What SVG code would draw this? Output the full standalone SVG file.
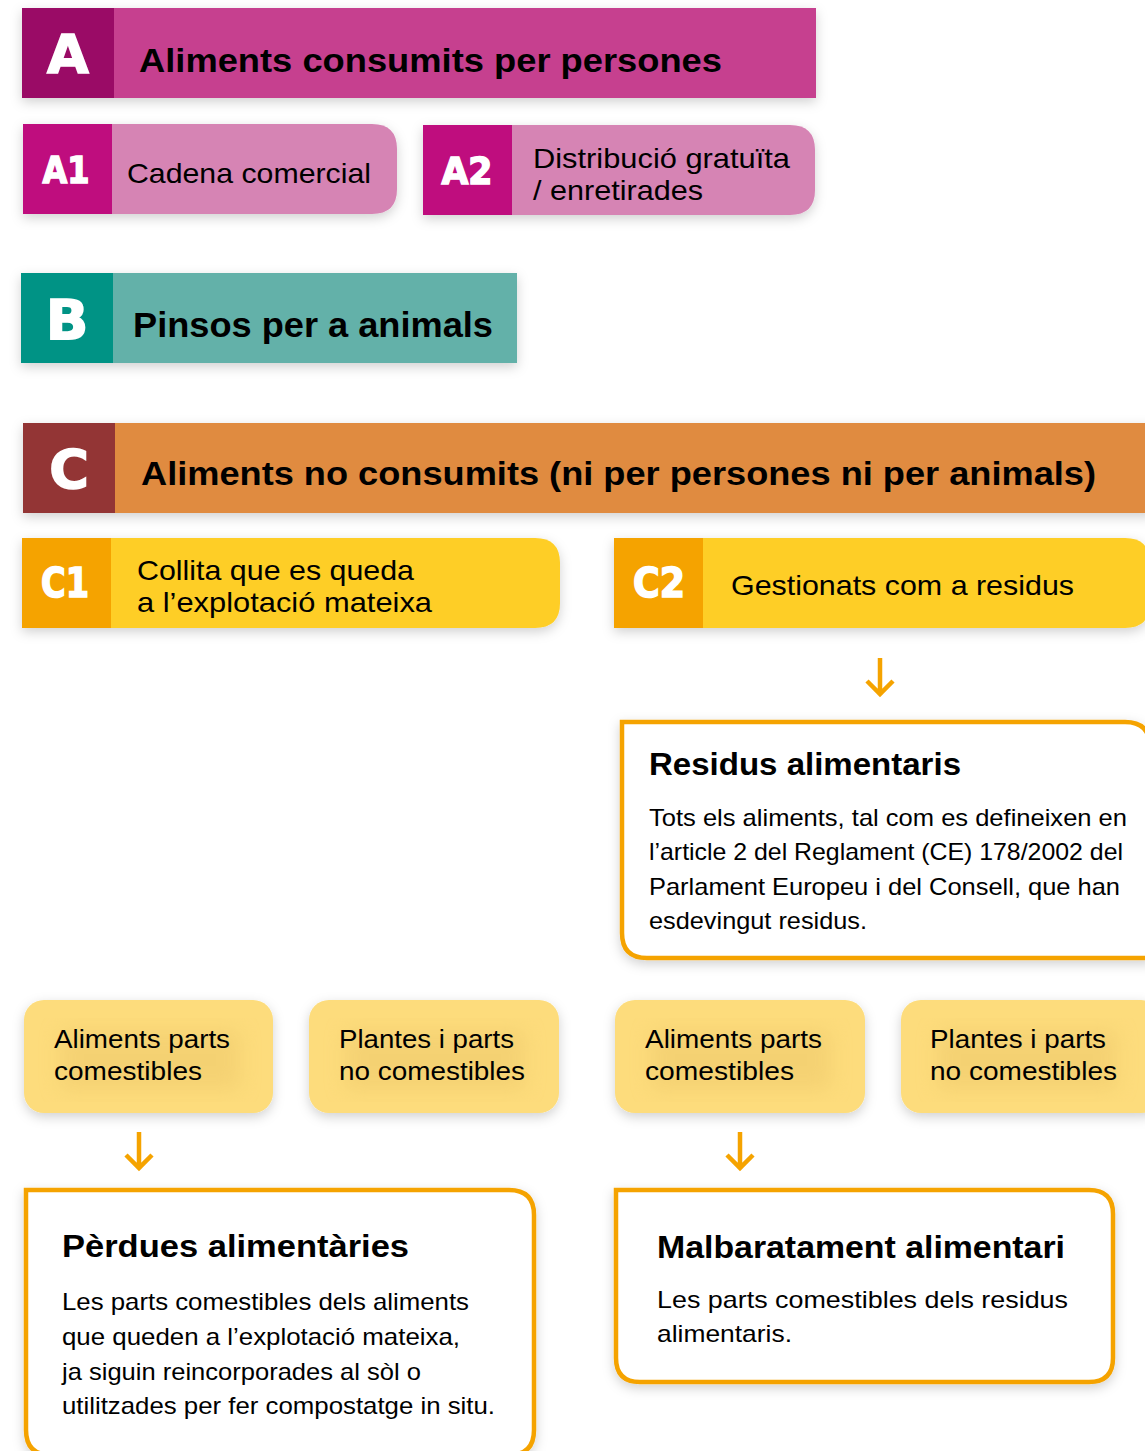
<svg xmlns="http://www.w3.org/2000/svg" width="1145" height="1451" viewBox="0 0 1145 1451">
<defs>
<filter id="sh" x="-10%" y="-20%" width="120%" height="140%">
<feDropShadow dx="0" dy="4" stdDeviation="6" flood-color="#000" flood-opacity="0.18"/>
</filter>
<filter id="blur" x="-20%" y="-20%" width="140%" height="140%">
<feGaussianBlur stdDeviation="10"/>
</filter>
<style>
.lt{font-family:"DejaVu Sans",sans-serif;font-weight:bold;fill:#fff;stroke:#fff;stroke-width:1.6;text-anchor:middle}
.hd{font-family:"Liberation Sans",Arial,sans-serif;font-weight:bold;fill:#000}
.tx{font-family:"Liberation Sans",Arial,sans-serif;fill:#000}
.arr{fill:none;stroke:#F5A300;stroke-width:4.5;stroke-linecap:butt}
.ob{fill:#fff;stroke:#F5A300;stroke-width:4.5}
.sm{fill:#FDDC7B}
</style>
</defs>
<rect width="1145" height="1451" fill="#fff"/>

<g id="A">
<rect x="22" y="8" width="794" height="90" fill="#C6408F" filter="url(#sh)"/>
<rect x="22" y="8" width="92" height="90" fill="#9A0B66"/>
<text class="lt" x="68" y="73" font-size="54">A</text>
<text class="hd" x="139" y="72" font-size="34" textLength="583" lengthAdjust="spacingAndGlyphs">Aliments consumits per persones</text>
</g>

<g id="A1">
<path d="M23 124 H372 Q397 124 397 149 V189 Q397 214 372 214 H23 Z" fill="#D684B4" filter="url(#sh)"/>
<rect x="23" y="124" width="89" height="90" fill="#BF0D7E"/>
<text class="lt" x="66" y="183" font-size="38" textLength="47" lengthAdjust="spacingAndGlyphs">A1</text>
<text class="tx" x="127" y="183" font-size="28" textLength="244" lengthAdjust="spacingAndGlyphs">Cadena comercial</text>
</g>

<g id="A2">
<path d="M423 125 H790 Q815 125 815 150 V190 Q815 215 790 215 H423 Z" fill="#D684B4" filter="url(#sh)"/>
<rect x="423" y="125" width="89" height="90" fill="#BF0D7E"/>
<text class="lt" x="467" y="184" font-size="38" textLength="51" lengthAdjust="spacingAndGlyphs">A2</text>
<text class="tx" x="533" y="168" font-size="28" textLength="257" lengthAdjust="spacingAndGlyphs">Distribució gratuïta</text>
<text class="tx" x="533" y="200" font-size="28" textLength="170" lengthAdjust="spacingAndGlyphs">/ enretirades</text>
</g>

<g id="B">
<rect x="21" y="273" width="496" height="90" fill="#64B1A9" filter="url(#sh)"/>
<rect x="21" y="273" width="92" height="90" fill="#009385"/>
<text class="lt" x="67" y="339" font-size="56">B</text>
<text class="hd" x="133" y="337" font-size="35" textLength="360" lengthAdjust="spacingAndGlyphs">Pinsos per a animals</text>
</g>

<g id="C">
<rect x="23" y="423" width="1130" height="90" fill="#E08B40" filter="url(#sh)"/>
<rect x="23" y="423" width="92" height="90" fill="#933535"/>
<text class="lt" x="69" y="488" font-size="54">C</text>
<text class="hd" x="141" y="485" font-size="34" textLength="955" lengthAdjust="spacingAndGlyphs">Aliments no consumits (ni per persones ni per animals)</text>
</g>

<g id="C1">
<path d="M22 538 H535 Q560 538 560 563 V603 Q560 628 535 628 H22 Z" fill="#FECE25" filter="url(#sh)"/>
<rect x="22" y="538" width="89" height="90" fill="#F5A300"/>
<text class="lt" x="65" y="597" font-size="40" textLength="48" lengthAdjust="spacingAndGlyphs">C1</text>
<text class="tx" x="137" y="580" font-size="28" textLength="277" lengthAdjust="spacingAndGlyphs">Collita que es queda</text>
<text class="tx" x="137" y="612" font-size="28" textLength="295" lengthAdjust="spacingAndGlyphs">a l’explotació mateixa</text>
</g>

<g id="C2">
<path d="M614 538 H1125 Q1150 538 1150 563 V603 Q1150 628 1125 628 H614 Z" fill="#FECE25" filter="url(#sh)"/>
<rect x="614" y="538" width="89" height="90" fill="#F5A300"/>
<text class="lt" x="659" y="597" font-size="40" textLength="52" lengthAdjust="spacingAndGlyphs">C2</text>
<text class="tx" x="731" y="595" font-size="28" textLength="343" lengthAdjust="spacingAndGlyphs">Gestionats com a residus</text>
</g>

<g id="residus">
<path class="ob" d="M622 722 H1125 Q1150 722 1150 747 V958 H647 Q622 958 622 933 Z" filter="url(#sh)"/>
<text class="hd" x="649" y="775" font-size="32" textLength="312" lengthAdjust="spacingAndGlyphs">Residus alimentaris</text>
<text class="tx" x="649" y="826" font-size="24" textLength="478" lengthAdjust="spacingAndGlyphs">Tots els aliments, tal com es defineixen en</text>
<text class="tx" x="649" y="860" font-size="24" textLength="474" lengthAdjust="spacingAndGlyphs">l’article 2 del Reglament (CE) 178/2002 del</text>
<text class="tx" x="649" y="895" font-size="24" textLength="471" lengthAdjust="spacingAndGlyphs">Parlament Europeu i del Consell, que han</text>
<text class="tx" x="649" y="929" font-size="24" textLength="218" lengthAdjust="spacingAndGlyphs">esdevingut residus.</text>
</g>

<g id="s1">
<rect class="sm" x="24" y="1000" width="249" height="113" rx="20" filter="url(#sh)"/>
<rect x="60" y="1030" width="180" height="60" fill="#EDC86A" opacity="0.5" filter="url(#blur)"/>
<text class="tx" x="54" y="1048" font-size="25" textLength="176" lengthAdjust="spacingAndGlyphs">Aliments parts</text>
<text class="tx" x="54" y="1080" font-size="25" textLength="148" lengthAdjust="spacingAndGlyphs">comestibles</text>
</g>
<g id="s2">
<rect class="sm" x="309" y="1000" width="250" height="113" rx="20" filter="url(#sh)"/>
<rect x="345" y="1030" width="180" height="60" fill="#EDC86A" opacity="0.5" filter="url(#blur)"/>
<text class="tx" x="339" y="1048" font-size="25" textLength="175" lengthAdjust="spacingAndGlyphs">Plantes i parts</text>
<text class="tx" x="339" y="1080" font-size="25" textLength="186" lengthAdjust="spacingAndGlyphs">no comestibles</text>
</g>
<g id="s3">
<rect class="sm" x="615" y="1000" width="250" height="113" rx="20" filter="url(#sh)"/>
<rect x="651" y="1030" width="180" height="60" fill="#EDC86A" opacity="0.5" filter="url(#blur)"/>
<text class="tx" x="645" y="1048" font-size="25" textLength="177" lengthAdjust="spacingAndGlyphs">Aliments parts</text>
<text class="tx" x="645" y="1080" font-size="25" textLength="149" lengthAdjust="spacingAndGlyphs">comestibles</text>
</g>
<g id="s4">
<rect class="sm" x="901" y="1000" width="260" height="113" rx="20" filter="url(#sh)"/>
<rect x="937" y="1030" width="180" height="60" fill="#EDC86A" opacity="0.5" filter="url(#blur)"/>
<text class="tx" x="930" y="1048" font-size="25" textLength="176" lengthAdjust="spacingAndGlyphs">Plantes i parts</text>
<text class="tx" x="930" y="1080" font-size="25" textLength="187" lengthAdjust="spacingAndGlyphs">no comestibles</text>
</g>

<g id="perdues">
<path class="ob" d="M26 1190 H509 Q534 1190 534 1215 V1430 Q534 1455 509 1455 H51 Q26 1455 26 1430 Z" filter="url(#sh)"/>
<text class="hd" x="62" y="1257" font-size="32" textLength="347" lengthAdjust="spacingAndGlyphs">Pèrdues alimentàries</text>
<text class="tx" x="62" y="1310" font-size="24" textLength="407" lengthAdjust="spacingAndGlyphs">Les parts comestibles dels aliments</text>
<text class="tx" x="62" y="1345" font-size="24" textLength="398" lengthAdjust="spacingAndGlyphs">que queden a l’explotació mateixa,</text>
<text class="tx" x="62" y="1380" font-size="24" textLength="359" lengthAdjust="spacingAndGlyphs">ja siguin reincorporades al sòl o</text>
<text class="tx" x="62" y="1414" font-size="24" textLength="433" lengthAdjust="spacingAndGlyphs">utilitzades per fer compostatge in situ.</text>
</g>

<g id="malbaratament">
<path class="ob" d="M616 1190 H1089 Q1113 1190 1113 1214 V1358 Q1113 1382 1089 1382 H640 Q616 1382 616 1358 Z" filter="url(#sh)"/>
<text class="hd" x="657" y="1258" font-size="32" textLength="408" lengthAdjust="spacingAndGlyphs">Malbaratament alimentari</text>
<text class="tx" x="657" y="1308" font-size="24" textLength="411" lengthAdjust="spacingAndGlyphs">Les parts comestibles dels residus</text>
<text class="tx" x="657" y="1342" font-size="24" textLength="135" lengthAdjust="spacingAndGlyphs">alimentaris.</text>
</g>

<g id="connectors">
<path class="arr" d="M880 658 V694 M867 681 L880 694 L893 681"/>
<path class="arr" d="M139 1132 V1168 M126 1155 L139 1168 L152 1155"/>
<path class="arr" d="M740 1132 V1168 M727 1155 L740 1168 L753 1155"/>
</g>
</svg>
